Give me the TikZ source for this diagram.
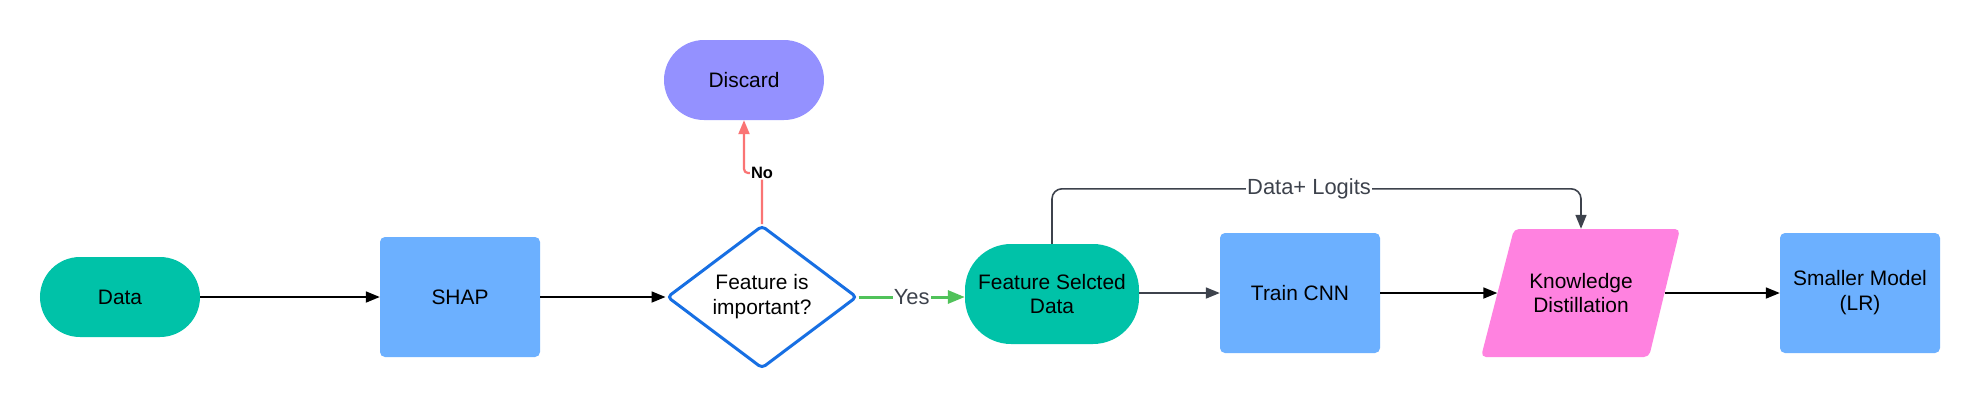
\documentclass[tikz,border=0pt]{standalone}
\usepackage{fontspec}
\setmainfont{Liberation Sans}
\usetikzlibrary{shapes.geometric,arrows.meta}
\definecolor{tealA}{HTML}{00C2A8}
\definecolor{blueA}{HTML}{6CB0FF}
\definecolor{purpA}{HTML}{9491FF}
\definecolor{pinkA}{HTML}{FF82E0}
\definecolor{dblueA}{HTML}{176FE3}
\definecolor{redA}{HTML}{FA7474}
\definecolor{greenA}{HTML}{50C25A}
\definecolor{grayA}{HTML}{3D424C}
\begin{document}
\begin{tikzpicture}[x=1bp,y=-1bp,
  font=\fontsize{21}{25}\selectfont,
  term/.style={fill=tealA, rounded corners=40bp, minimum width=160bp, minimum height=80bp, inner sep=0pt, align=center},
  boxA/.style={fill=blueA, rounded corners=5bp, minimum width=160bp, minimum height=120bp, inner sep=0pt, align=center},
  arr/.style={line width=1.8bp, -{Triangle[length=14bp,width=11bp]}},
  lab/.style={fill=white, inner sep=1bp, text=grayA, font=\fontsize{22}{24}\selectfont}]
\fill[white] (0,0) rectangle (1980,410);
\useasboundingbox (0,0) rectangle (1980,410);

\node[term] (data) at (120,297) {Data};
\node[boxA] (shap) at (460,297) {SHAP};
\node[diamond, draw=dblueA, line width=3bp, fill=white, shape aspect=1.33,
      minimum width=190bp, minimum height=143bp, inner sep=0pt,
      rounded corners=4bp, align=center] (dec) at (762,297) {Feature is\\important?};
\node[term, fill=purpA] (dis) at (744,80) {Discard};
\node[term, minimum width=174bp, minimum height=100bp, rounded corners=46bp] (fsd) at (1052,294) {Feature Selcted\\Data};
\node[boxA] (cnn) at (1300,293) {Train CNN};
\fill[pinkA, rounded corners=5bp] (1481,357) -- (1514,229) -- (1680,229) -- (1649,357) -- cycle;
\node[minimum width=167bp, minimum height=128bp, inner sep=0pt, align=center] (kd) at (1581,293) {Knowledge\\Distillation};
\node[boxA] (sm) at (1860,293) {Smaller Model\\(LR)};

\draw[arr] (data.east) -- (shap.west);
\draw[arr] (shap.east) -- (dec.west);
\draw[arr, redA, line width=2.2bp, rounded corners=4bp] (dec.north) -- ++(0,-51)
   node[fill=white, inner sep=1bp, text=black, font=\bfseries\fontsize{16.5}{18}\selectfont] (no) {No}
   -| (dis.south);
\draw[line width=3bp, greenA, -{Triangle[length=17bp,width=13bp]}] (dec.east) --
   node[lab] (yes) {Yes} (dec.east -| fsd.west);
\draw[arr, grayA] (fsd.east |- cnn.west) -- (cnn.west);
\draw[arr, grayA, line width=1.6bp, rounded corners=10bp] (fsd.north) -- ++(0,-55) -| (kd.north);
\node[lab] (dl) at (1309,189) {Data+ Logits};
\draw[arr] (cnn.east) -- (kd.west);
\draw[arr] (kd.east) -- (sm.west);
\end{tikzpicture}
\end{document}
